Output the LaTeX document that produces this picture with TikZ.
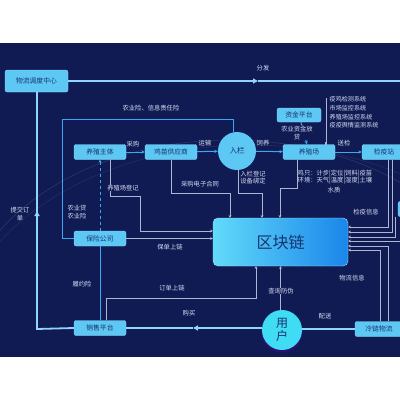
\documentclass[tikz,border=0pt]{standalone}
\usepackage{fontspec}
\newfontfamily\cjk{Noto Sans CJK SC}
\usetikzlibrary{arrows.meta,calc}
\definecolor{bg}{HTML}{101B54}
\definecolor{boxc}{HTML}{5EC8F5}
\definecolor{thickc}{HTML}{8FD5FF}
\definecolor{connc}{HTML}{3AA8F2}
\definecolor{datac}{HTML}{AEB5D2}
\definecolor{lblc}{HTML}{D8DEF2}
\definecolor{txtd}{HTML}{17336C}
\definecolor{userc}{HTML}{3FDCF3}
\definecolor{chainl}{HTML}{62DAFA}
\definecolor{chainr}{HTML}{1A86EA}
\tikzset{
  box/.style={fill=boxc, draw=boxc!70!white, line width=0.3pt, rounded corners=2pt, minimum width=52pt, minimum height=15pt, inner sep=0pt, text=txtd, font=\cjk\fontsize{6.8}{7}\selectfont},
  circ/.style={circle, fill=boxc, minimum size=38pt, inner sep=0pt, text=txtd, font=\cjk\fontsize{7.5}{8}\selectfont},
  lbl/.style={text=lblc, inner sep=0.5pt, font=\cjk\fontsize{6.3}{7.2}\selectfont, align=center},
  lblbg/.style={lbl, fill=bg},
  thickl/.style={draw=thickc, line width=1.8pt},
  thicktip/.style={thickl, -{Triangle[length=5pt,width=5pt]}},
  connl/.style={draw=connc, line width=1pt},
  conntip/.style={connl, -{Stealth[length=3.5pt,width=3.2pt]}},
  datal/.style={draw=datac, line width=0.6pt},
  datatip/.style={datal, -{Stealth[length=2.6pt,width=2.6pt,fill=white]}},
}
\begin{document}
\begin{tikzpicture}[x=1pt,y=-1pt]
\useasboundingbox (0,0) rectangle (400,400);
\fill[white] (0,0) rectangle (400,400);
\fill[bg] (0,43) rectangle (400,357);
\begin{scope}
\clip (0,43) rectangle (400,357);
\draw[white, opacity=0.12, line width=0.6pt] (230,330) ellipse (270pt and 190pt);
\draw[white, opacity=0.08, line width=0.6pt] (250,360) ellipse (300pt and 215pt);
\end{scope}

% nodes
\node[box, minimum width=63pt, minimum height=22pt] (wl) at (36.5,81) {物流调度中心};
\node[box] (yzzt) at (100,152) {养殖主体};
\node[box] (jmgys) at (171,152) {鸡苗供应商};
\node[circ] (rl) at (237,151) {入栏};
\node[box] (yzc) at (309,152) {养殖场};
\node[box, minimum width=44pt, minimum height=14pt] (zj) at (299,115) {资金平台};
\node[box, minimum width=44pt] (jyz) at (384,152) {检疫站};
\node[box, minimum width=20pt] (rb) at (408,209) {};
\node[box] (bx) at (100,238.5) {保险公司};
\node[box] (xs) at (100,328) {销售平台};
\node[box, minimum width=48pt] (ll) at (379,329) {冷链物流};
\fill[violet!70!blue, opacity=0.4] (282,332) circle (20.5pt);
\node[circle, fill=userc, minimum size=40pt, inner sep=0pt, text=txtd, align=center, font=\cjk\fontsize{12}{13}\selectfont] (yh) at (282,330) {用\\户};
\node[rounded corners=5pt, left color=chainl, right color=chainr, draw=chainl!60!white, line width=0.4pt, minimum width=135pt, minimum height=48pt, text=txtd, font=\cjk\fontsize{16}{17}\selectfont] (qkl) at (280.5,242) {区块链};

% thick logistics loop
\coordinate (tr) at (400,81);
\coordinate (ta) at (258,81);
\draw[thicktip] (wl.east) -- (ta);
\draw[thickl] (ta) -- (tr);
\node[lbl] at (263,68) {分发};
\coordinate (lc) at (37,329);
\coordinate (la) at (37,211);
\draw[thickl] (xs.west) -- (lc) -- (la);
\draw[thicktip] (la |- lc) -- (la);
\draw[thickl] (la) -- (wl.south -| la);
\node[lbl] at (20,214) {提交订\\单};
\coordinate (ba) at (193,329);
\draw[thicktip] (xs.east -| yh.west) -- (ba |- xs.east);
\draw[thickl] (ba |- xs.east) -- (xs.east);
\node[lbl] at (189,313) {购买};
\draw[thickl] (yh.east |- ll.west) -- (ll.west);
\node[lbl] at (325,316) {配送};

% insurance frame
\coordinate (f1) at (62,119);
\coordinate (f2) at (233,119);
\draw[connl] (bx.west) -- (bx.west -| f1) -- (f1) -- (f2) -- ($(rl.north)+(-4,0.6)$);
\node[lbl] at (151,108.5) {农业险、信息责任险};
\node[lbl] at (77,212) {农业贷\\农业险};

% main chain
\draw[conntip] (yzzt) -- (jmgys);
\node[lbl] at (133,144.5) {采购};
\draw[conntip] (jmgys) -- (rl);
\node[lbl] at (205,143) {运输};
\draw[conntip] (rl) -- (yzc);
\node[lbl] at (263,143) {饲养};
\draw[conntip] (yzc) -- (jyz);
\node[lbl] at (344,143) {送检};
\draw[conntip] (zj) -- (yzc);
\node[lblbg] at (297,133) {农业资金放\\贷};
\draw[connl, dashed, {Stealth[length=3pt,width=3pt]}-] (yzzt.south) -- (bx.north);
\draw[connl] (bx.south) -- (xs.north);
\node[lbl] at (82,284.5) {履约险};

% monitoring list
\coordinate (m1) at (326,98);
\draw[datal, -{Square[length=2pt,width=2pt]}] (m1) -- (m1 |- yzc.north);
\node[lbl, anchor=north west, align=left, font=\cjk\fontsize{6.1}{8.6}\selectfont] at (329,96) {疫鸡检测系统\\市场监控系统\\养殖场监控系统\\疫疫舆情监测系统};

% data lines to blockchain (left/top)
\coordinate (d1) at (110,196);
\coordinate (d1b) at (140,231);
\draw[datatip] (yzzt.south -| d1) -- (d1) -- (d1 -| d1b) -- (d1b) -- (qkl.west |- d1b);
\node[lblbg] at (123,188) {养殖场登记};
\coordinate (d2) at (171,193);
\coordinate (d2b) at (230,193);
\draw[datatip] (jmgys.south) -- (d2) -- (d2b) -- (d2b |- qkl.north);
\node[lbl] at (200,184) {采购电子合同};
\coordinate (d3) at (238,193);
\coordinate (d3b) at (262,193);
\draw[datatip] (rl.south -| d3) -- (d3) -- (d3b) -- (d3b |- qkl.north);
\node[lbl, align=left] at (253,177.5) {入栏登记\\设备绑定};
\coordinate (d4) at (297,188);
\coordinate (d4b) at (280,188);
\draw[datatip] (yzc.south -| d4) -- (d4) -- (d4b) -- (d4b |- qkl.north);
\node[lbl, anchor=west, align=left] at (297,177) {鸡只：计步|定位|饲料|疫苗\\环境：天气|温度|湿度|土壤};
\node[lbl] at (334,190) {水质};
\draw[datatip] (bx.east) -- (qkl.west |- bx.east);
\node[lbl] at (170,247) {保单上链};
\coordinate (d5) at (106,298);
\coordinate (d5b) at (256,298);
\draw[datatip] (xs.north -| d5) -- (d5) -- (d5b) -- (d5b |- qkl.south);
\node[lbl] at (172,288.5) {订单上链};
\draw[datatip] (yh.north -| qkl.south) -- (qkl.south);
\node[lblbg] at (281,291) {查询防伪};

% right side data lines
\coordinate (r1) at (388,227);
\coordinate (r2) at (392,232);
\coordinate (r3) at (395,237);
\coordinate (r4) at (400,241);
\coordinate (r5) at (388,246);
\coordinate (r6) at (380,250);
\draw[datatip] (jyz.south -| r1) -- (r1) -- (qkl.east |- r1);
\draw[datatip] (jyz.south -| r2) -- (r2) -- (qkl.east |- r2);
\draw[datatip] (rb.south -| r3) -- (r3) -- (qkl.east |- r3);
\draw[datatip] (r4) -- (qkl.east |- r4);
\draw[datatip] (ll.north -| r5) -- (r5) -- (qkl.east |- r5);
\draw[datatip] (ll.north -| r6) -- (r6) -- (qkl.east |- r6);
\node[lbl] at (366,212.5) {检疫信息};
\node[lbl] at (352,278) {物流信息};
\end{tikzpicture}
\end{document}
